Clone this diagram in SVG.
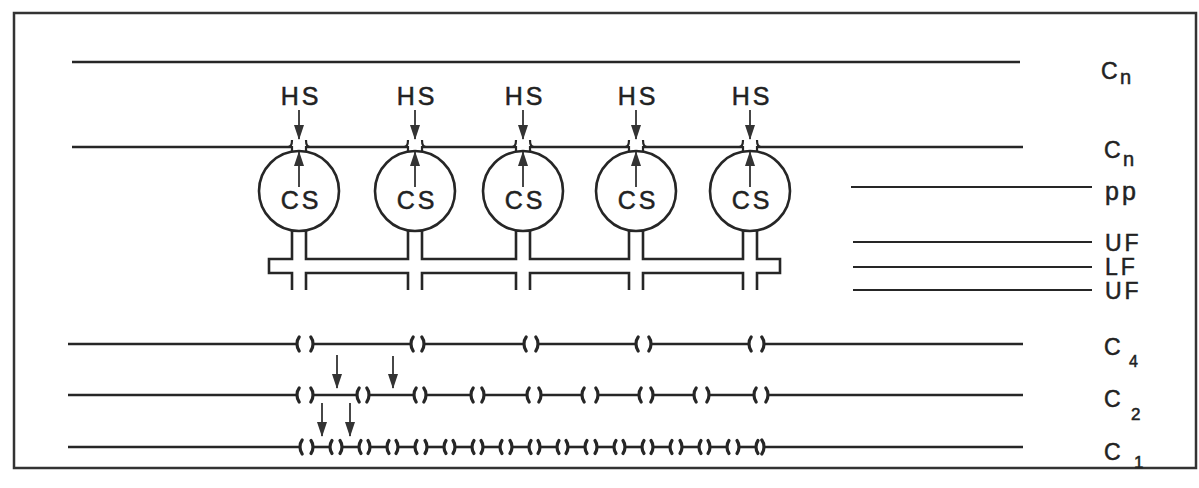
<svg xmlns="http://www.w3.org/2000/svg" width="1199" height="488" viewBox="0 0 1199 488">
<defs>
<style>
.ln{stroke:#262626;stroke-width:2.6;fill:none;stroke-linecap:butt}
.th{stroke:#262626;stroke-width:2.2;fill:none}
.cap{stroke:#262626;stroke-width:3.2;fill:none;stroke-linecap:round}
.ar{stroke:#333;stroke-width:1.8;fill:none}
.t{font-family:"Liberation Sans",Arial,sans-serif;fill:#222;stroke:#222;stroke-width:0.5}
.lab{font-size:25px;letter-spacing:3px}
.sm{font-size:23px;letter-spacing:3px}
.c{font-size:23px}
.sub{font-size:17px}
</style>
<marker id="ah" markerUnits="userSpaceOnUse" markerWidth="15" markerHeight="10" refX="14" refY="5" orient="auto">
<path d="M0,0 L15,5 L0,10 Z" fill="#333"/>
</marker>
<path id="rc" d="M2.2,-7 C0.3,-4.5 0,-2 0,0 C0,2 0.3,4.5 2.2,7" class="cap"/>
<path id="lc" d="M-2.2,-7 C-0.3,-4.5 0,-2 0,0 C0,2 -0.3,4.5 -2.2,7" class="cap"/>
<g id="bone">
<line x1="0" y1="0" x2="17" y2="0" class="ln"/>
<path d="M-2,-6.5 C-0.3,-4 0,-2 0,0 C0,2 -0.3,4 -2,6.5 M19,-6.5 C17.3,-4 17,-2 17,0 C17,2 17.3,4 19,6.5" class="cap"/>
</g>
</defs>
<rect x="0" y="0" width="1199" height="488" fill="#fff"/>
<rect x="14" y="13" width="1182" height="455" fill="none" stroke="#333" stroke-width="2.5"/>

<g id="cn-top">
<line x1="72" y1="62" x2="1020" y2="62" class="ln"/>
<text class="t c" x="1101" y="79">C</text><text class="t" style="font-size:20px" x="1120" y="84">n</text>
</g>

<g id="cn-membrane">
<line x1="72" y1="147" x2="1023" y2="147" class="ln"/>
<text class="t c" x="1104" y="158">C</text><text class="t" style="font-size:20px" x="1123" y="166">n</text>
</g>

<g id="pp"><line x1="851" y1="187" x2="1092" y2="187" class="th"/><text class="t lab" x="1105" y="200">pp</text></g>
<g id="uf1"><line x1="853" y1="242" x2="1092" y2="242" class="th"/><text class="t sm" x="1105" y="251">UF</text></g>
<g id="lf"><line x1="853" y1="267" x2="1092" y2="267" class="th"/><text class="t sm" x="1105" y="275">LF</text></g>
<g id="uf2"><line x1="853" y1="290" x2="1092" y2="290" class="th"/><text class="t sm" x="1105" y="299">UF</text></g>

<g id="cs-cells">
<g id="cs1" transform="translate(299,0)">
<rect x="-7" y="142" width="14" height="8" fill="#fff"/>
<path d="M-11,147 C-8,147 -7,144 -7,140 M11,147 C8,147 7,144 7,140 M-7,146 V152 M7,146 V152" class="th"/>
<circle cx="0" cy="191" r="40" class="ln"/>
<text class="t lab" x="2" y="105" text-anchor="middle">HS</text>
<text class="t lab" x="2" y="209" text-anchor="middle">CS</text>
<line x1="0" y1="110" x2="0" y2="139" class="ar" marker-end="url(#ah)"/>
<line x1="0" y1="187" x2="0" y2="152" class="ar" marker-end="url(#ah)"/>
</g>
<g id="cs2" transform="translate(415,0)">
<rect x="-7" y="142" width="14" height="8" fill="#fff"/>
<path d="M-11,147 C-8,147 -7,144 -7,140 M11,147 C8,147 7,144 7,140 M-7,146 V152 M7,146 V152" class="th"/>
<circle cx="0" cy="191" r="40" class="ln"/>
<text class="t lab" x="2" y="105" text-anchor="middle">HS</text>
<text class="t lab" x="2" y="209" text-anchor="middle">CS</text>
<line x1="0" y1="110" x2="0" y2="139" class="ar" marker-end="url(#ah)"/>
<line x1="0" y1="187" x2="0" y2="152" class="ar" marker-end="url(#ah)"/>
</g>
<g id="cs3" transform="translate(523,0)">
<rect x="-7" y="142" width="14" height="8" fill="#fff"/>
<path d="M-11,147 C-8,147 -7,144 -7,140 M11,147 C8,147 7,144 7,140 M-7,146 V152 M7,146 V152" class="th"/>
<circle cx="0" cy="191" r="40" class="ln"/>
<text class="t lab" x="2" y="105" text-anchor="middle">HS</text>
<text class="t lab" x="2" y="209" text-anchor="middle">CS</text>
<line x1="0" y1="110" x2="0" y2="139" class="ar" marker-end="url(#ah)"/>
<line x1="0" y1="187" x2="0" y2="152" class="ar" marker-end="url(#ah)"/>
</g>
<g id="cs4" transform="translate(636,0)">
<rect x="-7" y="142" width="14" height="8" fill="#fff"/>
<path d="M-11,147 C-8,147 -7,144 -7,140 M11,147 C8,147 7,144 7,140 M-7,146 V152 M7,146 V152" class="th"/>
<circle cx="0" cy="191" r="40" class="ln"/>
<text class="t lab" x="2" y="105" text-anchor="middle">HS</text>
<text class="t lab" x="2" y="209" text-anchor="middle">CS</text>
<line x1="0" y1="110" x2="0" y2="139" class="ar" marker-end="url(#ah)"/>
<line x1="0" y1="187" x2="0" y2="152" class="ar" marker-end="url(#ah)"/>
</g>
<g id="cs5" transform="translate(750,0)">
<rect x="-7" y="142" width="14" height="8" fill="#fff"/>
<path d="M-11,147 C-8,147 -7,144 -7,140 M11,147 C8,147 7,144 7,140 M-7,146 V152 M7,146 V152" class="th"/>
<circle cx="0" cy="191" r="40" class="ln"/>
<text class="t lab" x="2" y="105" text-anchor="middle">HS</text>
<text class="t lab" x="2" y="209" text-anchor="middle">CS</text>
<line x1="0" y1="110" x2="0" y2="139" class="ar" marker-end="url(#ah)"/>
<line x1="0" y1="187" x2="0" y2="152" class="ar" marker-end="url(#ah)"/>
</g>
</g>

<g id="stalks">
<path class="ln" d="M292,230 V259 H269 V273 H292 V290
M306,230 V259 H408 V230 M306,290 V273 H408 V290
M422,230 V259 H516 V230 M422,290 V273 H516 V290
M530,230 V259 H629 V230 M530,290 V273 H629 V290
M643,230 V259 H743 V230 M643,290 V273 H743 V290
M757,230 V259 H780 V273 H757 V290"/>
</g>

<g id="connectors">
<g id="c4">
<path class="ln" d="M68,344 H297 M313,344 H411 M424,344 H524 M538,344 H636 M651,344 H749 M764,344 H1023"/>
<use href="#rc" x="297" y="344"/><use href="#lc" x="313" y="344"/>
<use href="#rc" x="411" y="344"/><use href="#lc" x="424" y="344"/>
<use href="#rc" x="524" y="344"/><use href="#lc" x="538" y="344"/>
<use href="#rc" x="636" y="344"/><use href="#lc" x="651" y="344"/>
<use href="#rc" x="749" y="344"/><use href="#lc" x="764" y="344"/>
</g>
<g id="c2">
<path class="ln" d="M68,395 H297 M313,395 H357 M369,395 H414 M426,395 H471 M484,395 H527 M541,395 H582 M598,395 H639 M653,395 H694 M709,395 H754 M768,395 H1023"/>
<use href="#rc" x="297" y="395"/><use href="#lc" x="313" y="395"/>
<use href="#rc" x="357" y="395"/><use href="#lc" x="369" y="395"/>
<use href="#rc" x="414" y="395"/><use href="#lc" x="426" y="395"/>
<use href="#rc" x="471" y="395"/><use href="#lc" x="484" y="395"/>
<use href="#rc" x="527" y="395"/><use href="#lc" x="541" y="395"/>
<use href="#rc" x="582" y="395"/><use href="#lc" x="598" y="395"/>
<use href="#rc" x="639" y="395"/><use href="#lc" x="653" y="395"/>
<use href="#rc" x="694" y="395"/><use href="#lc" x="709" y="395"/>
<use href="#rc" x="754" y="395"/><use href="#lc" x="768" y="395"/>
</g>
<g id="c1">
<path class="ln" d="M68,447 H300 M764,447 H1023"/>
<use href="#rc" x="300" y="447"/><use href="#lc" x="764" y="447"/>
<use href="#bone" x="313" y="447"/><use href="#bone" x="342" y="447"/>
<use href="#bone" x="370" y="447"/><use href="#bone" x="398" y="447"/>
<use href="#bone" x="427" y="447"/><use href="#bone" x="455" y="447"/>
<use href="#bone" x="483" y="447"/><use href="#bone" x="512" y="447"/>
<use href="#bone" x="540" y="447"/><use href="#bone" x="568" y="447"/>
<use href="#bone" x="597" y="447"/><use href="#bone" x="625" y="447"/>
<use href="#bone" x="653" y="447"/><use href="#bone" x="682" y="447"/>
<use href="#bone" x="710" y="447"/><use href="#bone" x="739" y="447"/>
</g>
<line x1="337" y1="355" x2="337" y2="388" class="ar" marker-end="url(#ah)"/>
<line x1="393" y1="356" x2="393" y2="388" class="ar" marker-end="url(#ah)"/>
<line x1="322" y1="403" x2="322" y2="436" class="ar" marker-end="url(#ah)"/>
<line x1="350" y1="403" x2="350" y2="436" class="ar" marker-end="url(#ah)"/>
</g>

<g id="labels-c">
<text class="t c" x="1104" y="355">C</text><text class="t" style="font-size:16px" x="1129" y="367">4</text>
<text class="t c" x="1104" y="407">C</text><text class="t sub" x="1131" y="420">2</text>
<text class="t c" x="1104" y="460">C</text><text class="t sub" x="1134" y="468">1</text>
</g>
</svg>
